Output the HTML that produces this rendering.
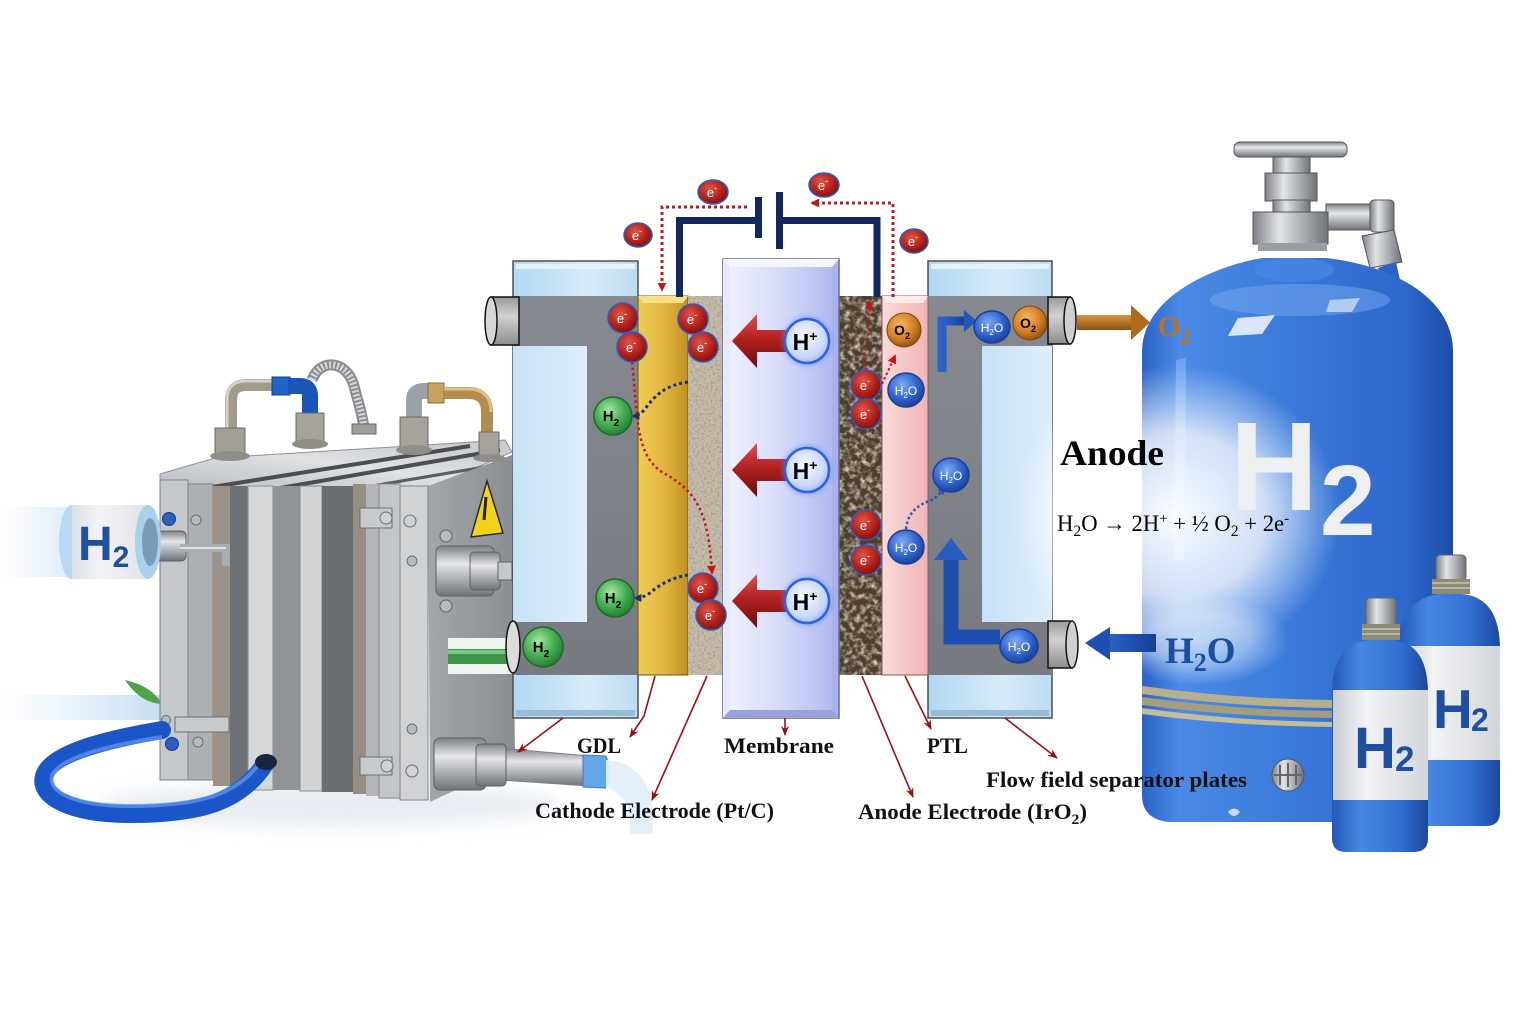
<!DOCTYPE html>
<html><head><meta charset="utf-8"><title>PEM Electrolyzer</title>
<style>html,body{margin:0;padding:0;background:#fff;}svg{display:block;}</style>
</head><body>
<svg width="1536" height="1024" viewBox="0 0 1536 1024" xmlns="http://www.w3.org/2000/svg">
<defs>
  <linearGradient id="plateBlue" x1="0" x2="1" y1="0" y2="0">
    <stop offset="0" stop-color="#b2d8f2"/><stop offset="0.6" stop-color="#d6ebf8"/><stop offset="1" stop-color="#bcdcf2"/>
  </linearGradient>
  <linearGradient id="winBlue" x1="0" x2="1" y1="0" y2="0">
    <stop offset="0" stop-color="#c6e2f6"/><stop offset="1" stop-color="#deeefa"/>
  </linearGradient>
  <linearGradient id="grayBand" x1="0" x2="0" y1="0" y2="1">
    <stop offset="0" stop-color="#868a90"/><stop offset="1" stop-color="#777b81"/>
  </linearGradient>
  <linearGradient id="gold" x1="0" x2="1" y1="0" y2="0">
    <stop offset="0" stop-color="#f0cd55"/><stop offset="0.6" stop-color="#deb23c"/><stop offset="1" stop-color="#c0901f"/>
  </linearGradient>
  <linearGradient id="memb" x1="0" x2="1" y1="0" y2="0">
    <stop offset="0" stop-color="#eef0fd"/><stop offset="0.55" stop-color="#d3d8f8"/><stop offset="1" stop-color="#b2baf0"/>
  </linearGradient>
  <linearGradient id="pink" x1="0" x2="1" y1="0" y2="0">
    <stop offset="0" stop-color="#fadada"/><stop offset="1" stop-color="#f0b5b5"/>
  </linearGradient>
  <linearGradient id="redArrow" x1="0" x2="0" y1="0" y2="1">
    <stop offset="0" stop-color="#e05050"/><stop offset="0.45" stop-color="#b32020"/><stop offset="1" stop-color="#6e0e0e"/>
  </linearGradient>
  <linearGradient id="blueArrow" x1="0" x2="1" y1="0" y2="0">
    <stop offset="0" stop-color="#2d63c8"/><stop offset="1" stop-color="#163f96"/>
  </linearGradient>
  <linearGradient id="brownArrow" x1="0" x2="0" y1="0" y2="1">
    <stop offset="0" stop-color="#d9953a"/><stop offset="1" stop-color="#8d5212"/>
  </linearGradient>
  <linearGradient id="cyl" x1="0" x2="0" y1="0" y2="1">
    <stop offset="0" stop-color="#9a9a9a"/><stop offset="0.4" stop-color="#d2d2d2"/><stop offset="1" stop-color="#8c8c8c"/>
  </linearGradient>
  <radialGradient id="eG" cx="0.4" cy="0.35" r="0.7">
    <stop offset="0" stop-color="#e0554a"/><stop offset="0.6" stop-color="#b0221a"/><stop offset="1" stop-color="#7a0f0a"/>
  </radialGradient>
  <radialGradient id="hG" cx="0.45" cy="0.4" r="0.65">
    <stop offset="0" stop-color="#f6f8ff"/><stop offset="0.7" stop-color="#c9d8fb"/><stop offset="1" stop-color="#98b4f2"/>
  </radialGradient>
  <radialGradient id="gG" cx="0.4" cy="0.35" r="0.7">
    <stop offset="0" stop-color="#a6e8a6"/><stop offset="0.55" stop-color="#46ad52"/><stop offset="1" stop-color="#1e7a2c"/>
  </radialGradient>
  <radialGradient id="wG" cx="0.4" cy="0.35" r="0.7">
    <stop offset="0" stop-color="#7eaaf2"/><stop offset="0.6" stop-color="#2f62cc"/><stop offset="1" stop-color="#173d90"/>
  </radialGradient>
  <radialGradient id="oG" cx="0.4" cy="0.35" r="0.7">
    <stop offset="0" stop-color="#f6b766"/><stop offset="0.6" stop-color="#d27e22"/><stop offset="1" stop-color="#8c4c0e"/>
  </radialGradient>
  <filter id="glow" x="-50%" y="-50%" width="200%" height="200%"><feGaussianBlur stdDeviation="3"/></filter>
  <filter id="soft" x="-30%" y="-30%" width="160%" height="160%"><feGaussianBlur stdDeviation="8"/></filter>
  <filter id="texLight" x="0" y="0" width="1" height="1">
    <feTurbulence type="fractalNoise" baseFrequency="0.45" numOctaves="2" seed="3"/>
    <feColorMatrix type="matrix" values="0 0 0 0 0.35  0 0 0 0 0.32  0 0 0 0 0.28  2.6 0 0 0 -1.15"/>
  </filter>
  <filter id="texDark" x="0" y="0" width="1" height="1">
    <feTurbulence type="fractalNoise" baseFrequency="0.18" numOctaves="3" seed="7"/>
    <feColorMatrix type="matrix" values="0 0 0 0 0.72  0 0 0 0 0.64  0 0 0 0 0.52  2.4 0 0 0 -1.0"/>
  </filter>
  <linearGradient id="tankGrad" x1="0" x2="1" y1="0" y2="0">
    <stop offset="0" stop-color="#2a63c6"/><stop offset="0.12" stop-color="#4b8ae6"/><stop offset="0.45" stop-color="#3b7bdb"/><stop offset="0.85" stop-color="#2d67cb"/><stop offset="1" stop-color="#1b4da8"/>
  </linearGradient>
  <linearGradient id="bottleGrad" x1="0" x2="1" y1="0" y2="0">
    <stop offset="0" stop-color="#2457b8"/><stop offset="0.3" stop-color="#4688e2"/><stop offset="0.7" stop-color="#3270d2"/><stop offset="1" stop-color="#1a48a0"/>
  </linearGradient>
  <linearGradient id="labelGrad" x1="0" x2="1" y1="0" y2="0">
    <stop offset="0" stop-color="#c9cdd4"/><stop offset="0.35" stop-color="#f2f3f5"/><stop offset="1" stop-color="#d2d5da"/>
  </linearGradient>
  <linearGradient id="metal" x1="0" x2="1" y1="0" y2="0">
    <stop offset="0" stop-color="#7d8086"/><stop offset="0.35" stop-color="#e2e4e6"/><stop offset="0.7" stop-color="#a5a8ad"/><stop offset="1" stop-color="#6f7277"/>
  </linearGradient>
  <linearGradient id="metalV" x1="0" x2="0" y1="0" y2="1">
    <stop offset="0" stop-color="#7d8086"/><stop offset="0.35" stop-color="#e6e7e9"/><stop offset="0.7" stop-color="#a5a8ad"/><stop offset="1" stop-color="#6f7277"/>
  </linearGradient>
  <radialGradient id="fog" cx="0.5" cy="0.5" r="0.5">
    <stop offset="0" stop-color="#ffffff" stop-opacity="0.97"/><stop offset="0.55" stop-color="#ffffff" stop-opacity="0.75"/><stop offset="1" stop-color="#ffffff" stop-opacity="0"/>
  </radialGradient>
  <linearGradient id="fadeL" x1="0" x2="1" y1="0" y2="0">
    <stop offset="0" stop-color="#cfe4f5" stop-opacity="0"/><stop offset="1" stop-color="#bcd9f0" stop-opacity="0.9"/>
  </linearGradient>
  <linearGradient id="topFace" x1="0" x2="1" y1="1" y2="0">
    <stop offset="0" stop-color="#b9bdc2"/><stop offset="0.5" stop-color="#dfe1e3"/><stop offset="1" stop-color="#c4c7cb"/>
  </linearGradient>
  <linearGradient id="sideFace" x1="0" x2="1" y1="0" y2="0">
    <stop offset="0" stop-color="#a3a6aa"/><stop offset="1" stop-color="#8a8d92"/>
  </linearGradient>
  <marker id="mRed" viewBox="0 0 10 10" refX="8" refY="5" markerWidth="9" markerHeight="9" markerUnits="userSpaceOnUse" orient="auto">
    <path d="M0,0 L10,5 L0,10 z" fill="#c01818"/>
  </marker>
  <marker id="mLead" viewBox="0 0 10 10" refX="9" refY="5" markerWidth="10" markerHeight="10" markerUnits="userSpaceOnUse" orient="auto">
    <path d="M0,1 L10,5 L0,9 L3,5 z" fill="#9a1010"/>
  </marker>
  <marker id="mNavy" viewBox="0 0 10 10" refX="8" refY="5" markerWidth="8" markerHeight="8" markerUnits="userSpaceOnUse" orient="auto">
    <path d="M0,0 L10,5 L0,10 z" fill="#1b2f66"/>
  </marker>
  <marker id="mBlue" viewBox="0 0 10 10" refX="8" refY="5" markerWidth="8" markerHeight="8" markerUnits="userSpaceOnUse" orient="auto">
    <path d="M0,0 L10,5 L0,10 z" fill="#2a56b8"/>
  </marker>
</defs>

<rect width="1536" height="1024" fill="#ffffff"/>

<!-- ================= LEFT STACK ================= -->
<ellipse cx="330" cy="805" rx="230" ry="22" fill="#dfe6ee" opacity="0.7" filter="url(#soft)"/>
<rect x="0" y="507" width="110" height="70" fill="url(#fadeL)"/>
<rect x="0" y="695" width="165" height="25" fill="url(#fadeL)"/>
<path d="M125,680 Q152,686 162,704 Q140,703 125,680 Z" fill="#4fa34a"/>

<!-- top face -->
<polygon points="160,474 215,458 505,440 512,452 430,488 160,488" fill="url(#topFace)" stroke="#8e9196" stroke-width="1"/>
<path d="M212,487 L470,446" stroke="#4a4d52" stroke-width="4"/>
<path d="M280,488 L500,450" stroke="#4a4d52" stroke-width="4"/>
<path d="M360,488 L508,463" stroke="#5a5d62" stroke-width="3"/>
<!-- side face -->
<polygon points="428,486 512,455 515,762 430,802" fill="url(#sideFace)"/>
<!-- front plates -->
<rect x="160" y="480" width="28" height="300" fill="#c6c9cc" stroke="#7d8085" stroke-width="1"/>
<rect x="188" y="484" width="25" height="296" fill="#aeb1b4" stroke="#7d8085" stroke-width="1"/>
<rect x="213" y="486" width="17" height="300" fill="#9c928a"/>
<rect x="230" y="486" width="18" height="302" fill="#6d7074"/>
<rect x="248" y="486" width="25" height="304" fill="#d5d7d8" stroke="#8a8d91" stroke-width="1"/>
<rect x="273" y="486" width="27" height="304" fill="#909397"/>
<rect x="300" y="486" width="22" height="305" fill="#d2d4d6" stroke="#8a8d91" stroke-width="1"/>
<rect x="322" y="486" width="31" height="306" fill="#6a6d71"/>
<rect x="353" y="484" width="13" height="310" fill="#988d83"/>
<rect x="366" y="484" width="13" height="312" fill="#b4b7ba"/>
<rect x="379" y="484" width="21" height="314" fill="#c3c6c9" stroke="#84878c" stroke-width="1"/>
<rect x="400" y="486" width="28" height="314" fill="#d0d2d4" stroke="#84878c" stroke-width="1"/>
<!-- warning triangle -->
<polygon points="487,481 503,533 471,537" fill="#f2d31a" stroke="#2a2a2a" stroke-width="1.5"/>
<path d="M486,497 L484,520" stroke="#222" stroke-width="3"/>
<!-- screws & clamps -->
<circle cx="169" cy="519" r="6.5" fill="#2d5fc0" stroke="#1a3a80"/>
<circle cx="172" cy="744" r="6.5" fill="#2d5fc0" stroke="#1a3a80"/>
<circle cx="196" cy="520" r="5" fill="#b8bbbe" stroke="#6b6e72"/>
<circle cx="166" cy="720" r="4.5" fill="#b8bbbe" stroke="#6b6e72"/>
<circle cx="198" cy="742" r="5" fill="#b8bbbe" stroke="#6b6e72"/>
<rect x="175" y="717" width="54" height="15" fill="#c8cbce" stroke="#6b6e72"/>
<rect x="360" y="508" width="32" height="20" fill="#c8cbce" stroke="#6b6e72"/>
<circle cx="386" cy="518" r="6" fill="#d0d2d4" stroke="#6b6e72"/>
<circle cx="410" cy="521" r="6" fill="#d0d2d4" stroke="#6b6e72"/>
<circle cx="412" cy="561" r="5" fill="#b8bbbe" stroke="#6b6e72"/>
<circle cx="412" cy="729" r="5" fill="#b8bbbe" stroke="#6b6e72"/>
<rect x="360" y="757" width="32" height="18" fill="#c8cbce" stroke="#6b6e72"/>
<circle cx="387" cy="766" r="6" fill="#d0d2d4" stroke="#6b6e72"/>
<circle cx="412" cy="771" r="6" fill="#d0d2d4" stroke="#6b6e72"/>
<!-- right connectors on box -->
<rect x="436" y="546" width="58" height="50" rx="6" fill="url(#metalV)" stroke="#5d6065"/>
<rect x="470" y="552" width="30" height="38" rx="4" fill="url(#metalV)" stroke="#5d6065"/>
<rect x="498" y="562" width="14" height="18" fill="#c6c8cb" stroke="#5d6065"/>
<circle cx="446" cy="536" r="6" fill="#b8bbbe" stroke="#5d6065"/>
<circle cx="446" cy="606" r="6" fill="#b8bbbe" stroke="#5d6065"/>
<!-- green pipe -->
<rect x="448" y="638" width="64" height="36" fill="#eef3ee"/>
<rect x="448" y="649" width="64" height="15" fill="#3f9448"/>
<rect x="448" y="650" width="64" height="4" fill="#7ccc83"/>
<!-- bottom right connector + pipe -->
<polygon points="500,748 588,756 588,786 500,780" fill="url(#metalV)" stroke="#7c7f84"/>
<rect x="434" y="738" width="52" height="52" rx="6" fill="url(#metalV)" stroke="#5d6065"/>
<rect x="476" y="744" width="30" height="42" rx="4" fill="url(#metalV)" stroke="#5d6065"/>
<path d="M583,755 L606,756 Q612,770 606,788 L583,787 Z" fill="#62a6e6" stroke="#3c7cc0"/>
<path d="M606,760 C642,762 658,792 652,834 L630,834 C632,804 622,792 606,788 Z" fill="#e4eef7" opacity="0.95"/>
<!-- left H2 inlet -->
<rect x="136" y="531" width="50" height="30" rx="5" fill="url(#metalV)" stroke="#5d6065"/>
<path d="M180,548 H226 V566" stroke="#a9acb0" stroke-width="8" fill="none"/>
<path d="M180,548 H226" stroke="#e0e2e4" stroke-width="2" fill="none"/>
<ellipse cx="72" cy="542" rx="13" ry="37" fill="#b7daf2"/>
<rect x="72" y="505" width="76" height="74" fill="#f1f3f6"/>
<rect x="72" y="505" width="76" height="74" fill="url(#labelGrad)" opacity="0.5"/>
<ellipse cx="148" cy="542" rx="13" ry="37" fill="#a9d1ee"/>
<ellipse cx="150" cy="542" rx="8" ry="24" fill="#7a9bb5"/>
<text x="78" y="560" font-family="Liberation Sans, sans-serif" font-weight="bold" font-size="48" fill="#1f4fa0">H<tspan font-size="30" dy="7">2</tspan></text>
<!-- top hoses -->
<path d="M312,380 C320,358 347,360 354,386 C358,402 362,412 364,428" stroke="#8b8d90" stroke-width="11" fill="none"/>
<path d="M312,380 C320,358 347,360 354,386 C358,402 362,412 364,428" stroke="#d7d9db" stroke-width="7" fill="none" stroke-dasharray="2,2"/>
<rect x="352" y="424" width="24" height="10" fill="#9e9d98" stroke="#6a6a66"/>
<path d="M231,432 V400 Q231,385 246,385 H274" stroke="#a39a89" stroke-width="12" fill="none"/>
<path d="M227,432 V400 Q227,381 246,381 H274" stroke="#d8d2c6" stroke-width="3" fill="none"/>
<rect x="272" y="377" width="18" height="18" fill="#2262cc" stroke="#163f8a"/>
<path d="M288,386 H300 Q310,386 310,396 V414" stroke="#1a55b8" stroke-width="16" fill="none"/>
<rect x="215" y="428" width="30" height="28" fill="#a19f98" stroke="#6c6a64"/>
<ellipse cx="230" cy="456" rx="20" ry="5" fill="#8f8d87"/>
<rect x="296" y="413" width="28" height="31" fill="#a5a39c" stroke="#6c6a64"/>
<ellipse cx="310" cy="444" rx="18" ry="5" fill="#8f8d87"/>
<path d="M414,418 V400 Q414,391 424,391 H430" stroke="#9aa0a8" stroke-width="16" fill="none"/>
<rect x="428" y="383" width="16" height="20" fill="#c8a262" stroke="#8a6a30"/>
<path d="M444,393 H468 Q487,393 487,412 V436" stroke="#b38c50" stroke-width="12" fill="none"/>
<path d="M444,389 H468 Q491,389 491,412" stroke="#e0c08a" stroke-width="3" fill="none"/>
<rect x="400" y="417" width="28" height="33" fill="#a5a39c" stroke="#6c6a64"/>
<ellipse cx="414" cy="450" rx="18" ry="5" fill="#8f8d87"/>
<rect x="479" y="432" width="20" height="26" fill="#a5a39c" stroke="#6c6a64"/>
<ellipse cx="489" cy="458" rx="16" ry="4" fill="#8f8d87"/>
<!-- blue hose -->
<path d="M265,764 C240,802 200,814 130,814 C70,814 38,796 44,776 C50,756 92,742 162,730" stroke="#1b56c8" stroke-width="18" fill="none" stroke-linecap="round"/>
<path d="M262,760 C238,795 200,806 130,806 C75,806 48,792 52,776 C58,760 95,748 162,737" stroke="#5b92ee" stroke-width="4" fill="none" opacity="0.8"/>
<ellipse cx="266" cy="762" rx="11" ry="8" fill="#1a2440"/>

<!-- ================= CELL ================= -->
<rect x="513" y="261" width="125" height="457" fill="url(#plateBlue)" stroke="#4a4f55" stroke-width="1.5"/>
<rect x="516" y="264" width="119" height="5" fill="#e6f3fb"/>
<path d="M513,296 H638 V675 H513 V622 H587 V346 H513 Z" fill="url(#grayBand)"/>
<rect x="513" y="346" width="74" height="276" fill="url(#winBlue)"/>
<rect x="516" y="710" width="119" height="6" fill="#98bcd6"/>
<rect x="928" y="261" width="124" height="457" fill="url(#plateBlue)" stroke="#4a4f55" stroke-width="1.5"/>
<rect x="931" y="264" width="118" height="5" fill="#e6f3fb"/>
<path d="M928,296 H1052 V346 H982 V622 H1052 V675 H928 Z" fill="url(#grayBand)"/>
<rect x="982" y="346" width="70" height="276" fill="url(#winBlue)"/>
<rect x="931" y="710" width="118" height="6" fill="#98bcd6"/>
<rect x="638" y="296" width="50" height="379" fill="url(#gold)" stroke="#6b5410" stroke-width="1"/>
<polygon points="638,296 688,296 683,303 643,303" fill="#f8e08a"/>
<rect x="688" y="296" width="35" height="379" fill="#c6bcaa"/>
<rect x="688" y="296" width="35" height="379" filter="url(#texLight)"/>
<rect x="839" y="296" width="43" height="379" fill="#4c3d2e"/>
<rect x="839" y="296" width="43" height="379" filter="url(#texDark)"/>
<rect x="882" y="296" width="46" height="379" fill="url(#pink)" stroke="#8a5a5a" stroke-width="1"/>
<polygon points="882,296 928,296 923,303 887,303" fill="#fdeaea"/>
<rect x="723" y="259" width="116" height="459" fill="#a9b1e9" stroke="#686a8a" stroke-width="1.5"/>
<polygon points="723,259 839,259 832,267 730,267" fill="#f4f5ff"/>
<polygon points="723,259 730,267 730,710 723,718" fill="#e6e9ff"/>
<polygon points="723,718 730,710 832,710 839,718" fill="#9aa2dc"/>
<rect x="730" y="267" width="102" height="443" fill="url(#memb)"/>

<!-- connectors -->
<rect x="491" y="297" width="28" height="48" fill="url(#cyl)" stroke="#111" stroke-width="1.5"/>
<ellipse cx="491" cy="321" rx="6" ry="24" fill="#d6d6d6" stroke="#111" stroke-width="1.5"/>
<ellipse cx="513" cy="647" rx="7" ry="26" fill="#dcdcdc" stroke="#111" stroke-width="1.5"/>
<rect x="1048" y="297" width="22" height="47" fill="url(#cyl)" stroke="#111" stroke-width="1.5"/>
<ellipse cx="1070" cy="320.5" rx="6" ry="23.5" fill="#cfcfcf" stroke="#111" stroke-width="1.5"/>
<rect x="1048" y="621" width="24" height="47" fill="url(#cyl)" stroke="#111" stroke-width="1.5"/>
<ellipse cx="1072" cy="644.5" rx="6" ry="23.5" fill="#cfcfcf" stroke="#111" stroke-width="1.5"/>

<!-- battery wires -->
<path d="M679.5,297 V220.5 H758" stroke="#12275e" stroke-width="7" fill="none"/>
<path d="M779,220.5 H877 V297" stroke="#12275e" stroke-width="7" fill="none"/>
<rect x="755" y="197" width="7" height="41" fill="#12275e"/>
<rect x="776" y="192" width="7" height="57" fill="#12275e"/>
<path d="M747,207 H662 V290" stroke="#c01818" stroke-width="3" stroke-dasharray="3,3" fill="none" marker-end="url(#mRed)"/>
<path d="M893,297 V203 H812" stroke="#c01818" stroke-width="3" stroke-dasharray="3,3" fill="none" marker-end="url(#mRed)"/>

<!-- blue arrows on right plate -->
<path d="M942,372 V321 H966" stroke="url(#blueArrow)" stroke-width="9" fill="none"/>
<polygon points="964,310 977,321 964,332" fill="#2456b8"/>
<path d="M951,556 V637 H1000" stroke="#1f4fae" stroke-width="15" fill="none"/>
<polygon points="934,560 968,560 951,538" fill="#2a5cc0"/>

<!-- H+ arrows -->
<g>
  <polygon points="732,341 757,314 757,330 786,330 786,352 757,352 757,368" fill="url(#redArrow)"/>
  <polygon points="732,470 757,443 757,459 786,459 786,481 757,481 757,497" fill="url(#redArrow)"/>
  <polygon points="732,601 757,574 757,590 786,590 786,612 757,612 757,628" fill="url(#redArrow)"/>
</g>
<g font-family="Liberation Sans, sans-serif" font-weight="bold" text-anchor="middle">
  <circle cx="807" cy="341" r="24" fill="#4f86ff" opacity="0.6" filter="url(#glow)"/>
  <circle cx="807" cy="341" r="22" fill="url(#hG)" stroke="#2f62e0" stroke-width="2.5"/>
  <text x="805" y="350" font-size="23" fill="#000">H<tspan font-size="14" dy="-9">+</tspan></text>
  <circle cx="807" cy="470" r="24" fill="#4f86ff" opacity="0.6" filter="url(#glow)"/>
  <circle cx="807" cy="470" r="22" fill="url(#hG)" stroke="#2f62e0" stroke-width="2.5"/>
  <text x="805" y="479" font-size="23" fill="#000">H<tspan font-size="14" dy="-9">+</tspan></text>
  <circle cx="807" cy="601" r="24" fill="#4f86ff" opacity="0.6" filter="url(#glow)"/>
  <circle cx="807" cy="601" r="22" fill="url(#hG)" stroke="#2f62e0" stroke-width="2.5"/>
  <text x="805" y="610" font-size="23" fill="#000">H<tspan font-size="14" dy="-9">+</tspan></text>
</g>

<!-- dotted internal paths -->
<path d="M632,362 C638,420 636,455 662,472 C698,492 708,512 712,573" stroke="#c01818" stroke-width="2.5" stroke-dasharray="2.5,3" fill="none" marker-end="url(#mRed)"/>
<path d="M688,382 C666,385 656,395 648,405 C643,412 639,416 633,416" stroke="#1b2f66" stroke-width="3" stroke-dasharray="3,3" fill="none" marker-end="url(#mNavy)"/>
<path d="M688,575 C670,578 660,585 651,592 C646,596 641,598 635,598" stroke="#1b2f66" stroke-width="3" stroke-dasharray="3,3" fill="none" marker-end="url(#mNavy)"/>
<path d="M866,370 C860,352 872,336 868,320 L870,302" stroke="#c01818" stroke-width="2" stroke-dasharray="2.5,2.5" fill="none" marker-end="url(#mRed)"/>
<path d="M882,384 L895,356" stroke="#c01818" stroke-width="2" stroke-dasharray="2.5,2.5" fill="none" marker-end="url(#mRed)"/>
<path d="M906,529 C908,508 924,503 934,499 L945,488" stroke="#2a56b8" stroke-width="2.5" stroke-dasharray="2.5,2.5" fill="none" marker-end="url(#mBlue)"/>

<!-- electrons -->
<g font-family="Liberation Sans, sans-serif" text-anchor="middle" fill="#fff" font-size="13">
  <g stroke="#2d5bc8" stroke-width="1.5">
    <ellipse cx="713" cy="192" rx="15" ry="12" fill="url(#eG)"/>
    <ellipse cx="824" cy="185" rx="15" ry="12" fill="url(#eG)"/>
    <ellipse cx="638" cy="235" rx="14" ry="12" fill="url(#eG)"/>
    <ellipse cx="914" cy="241" rx="14" ry="12" fill="url(#eG)"/>
    <circle cx="623" cy="318" r="15" fill="url(#eG)"/>
    <circle cx="632" cy="347" r="15" fill="url(#eG)"/>
    <circle cx="693" cy="319" r="15" fill="url(#eG)"/>
    <circle cx="703" cy="347" r="15" fill="url(#eG)"/>
    <circle cx="703" cy="588" r="15" fill="url(#eG)"/>
    <circle cx="711" cy="615" r="15" fill="url(#eG)"/>
    <circle cx="866" cy="385" r="15" fill="url(#eG)"/>
    <circle cx="866" cy="414" r="15" fill="url(#eG)"/>
    <circle cx="866" cy="525" r="15" fill="url(#eG)"/>
    <circle cx="866" cy="560" r="15" fill="url(#eG)"/>
  </g>
  <text x="712" y="197">e<tspan font-size="9" dy="-6">-</tspan></text>
  <text x="823" y="190">e<tspan font-size="9" dy="-6">-</tspan></text>
  <text x="637" y="240">e<tspan font-size="9" dy="-6">-</tspan></text>
  <text x="913" y="246">e<tspan font-size="9" dy="-6">-</tspan></text>
  <text x="622" y="323">e<tspan font-size="9" dy="-6">-</tspan></text>
  <text x="631" y="352">e<tspan font-size="9" dy="-6">-</tspan></text>
  <text x="692" y="324">e<tspan font-size="9" dy="-6">-</tspan></text>
  <text x="702" y="352">e<tspan font-size="9" dy="-6">-</tspan></text>
  <text x="702" y="593">e<tspan font-size="9" dy="-6">-</tspan></text>
  <text x="710" y="620">e<tspan font-size="9" dy="-6">-</tspan></text>
  <text x="865" y="390">e<tspan font-size="9" dy="-6">-</tspan></text>
  <text x="865" y="419">e<tspan font-size="9" dy="-6">-</tspan></text>
  <text x="865" y="530">e<tspan font-size="9" dy="-6">-</tspan></text>
  <text x="865" y="565">e<tspan font-size="9" dy="-6">-</tspan></text>
</g>

<g font-family="Liberation Sans, sans-serif" font-weight="bold" text-anchor="middle" font-size="15" fill="#000">
  <circle cx="613" cy="416" r="19" fill="url(#gG)" stroke="#1d6a2a" stroke-width="1.5"/>
  <text x="611" y="421">H<tspan font-size="10" dy="5">2</tspan></text>
  <circle cx="615" cy="598" r="19" fill="url(#gG)" stroke="#1d6a2a" stroke-width="1.5"/>
  <text x="613" y="603">H<tspan font-size="10" dy="5">2</tspan></text>
  <circle cx="543" cy="647" r="20" fill="url(#gG)" stroke="#1d6a2a" stroke-width="1.5"/>
  <text x="541" y="652">H<tspan font-size="10" dy="5">2</tspan></text>
</g>
<g font-family="Liberation Sans, sans-serif" text-anchor="middle" font-size="12" fill="#fff">
  <g stroke="#1a3f9a" stroke-width="1.5">
    <ellipse cx="906" cy="390" rx="18" ry="17" fill="url(#wG)"/>
    <ellipse cx="906" cy="547" rx="18" ry="17" fill="url(#wG)"/>
    <ellipse cx="951" cy="475" rx="18" ry="17" fill="url(#wG)"/>
    <ellipse cx="992" cy="327" rx="18" ry="16" fill="url(#wG)"/>
    <ellipse cx="1019" cy="646" rx="19" ry="17" fill="url(#wG)"/>
  </g>
  <text x="906" y="395">H<tspan font-size="8" dy="3">2</tspan><tspan dy="-3">O</tspan></text>
  <text x="906" y="552">H<tspan font-size="8" dy="3">2</tspan><tspan dy="-3">O</tspan></text>
  <text x="951" y="480">H<tspan font-size="8" dy="3">2</tspan><tspan dy="-3">O</tspan></text>
  <text x="992" y="332">H<tspan font-size="8" dy="3">2</tspan><tspan dy="-3">O</tspan></text>
  <text x="1019" y="651">H<tspan font-size="8" dy="3">2</tspan><tspan dy="-3">O</tspan></text>
</g>
<g font-family="Liberation Sans, sans-serif" font-weight="bold" text-anchor="middle" font-size="14" fill="#000">
  <circle cx="904" cy="330" r="17" fill="url(#oG)" stroke="#7a420c" stroke-width="1"/>
  <text x="902" y="335">O<tspan font-size="9" dy="4">2</tspan></text>
  <circle cx="1030" cy="323" r="17" fill="url(#oG)" stroke="#7a420c" stroke-width="1"/>
  <text x="1028" y="328">O<tspan font-size="9" dy="4">2</tspan></text>
</g>

<!-- ================= TANK ================= -->
<rect x="1273" y="155" width="37" height="20" fill="url(#metal)" stroke="#555"/>
<rect x="1265" y="173" width="52" height="28" fill="url(#metal)" stroke="#555"/>
<rect x="1273" y="200" width="37" height="14" fill="url(#metal)" stroke="#555"/>
<path d="M1326,204 H1372 V230 H1326 Z" fill="url(#metalV)" stroke="#555"/>
<rect x="1370" y="200" width="24" height="32" rx="4" fill="url(#metal)" stroke="#555"/>
<path d="M1362,236 L1394,230 L1402,262 L1370,268 Z" fill="url(#metal)" stroke="#555"/>
<path d="M1378,268 L1396,262 L1400,280 L1384,284 Z" fill="#2a62c6"/>
<rect x="1253" y="212" width="75" height="32" fill="url(#metal)" stroke="#555"/>
<rect x="1234" y="142" width="113" height="15" rx="6" fill="url(#metalV)" stroke="#555"/>
<rect x="1258" y="243" width="69" height="8" fill="#9a9ea4"/>
<path d="M1142,352 C1142,292 1225,264 1262,258 L1326,258 C1382,264 1453,292 1453,352 L1453,795 Q1453,820 1425,822 L1170,822 Q1142,820 1142,795 Z" fill="url(#tankGrad)"/>
<ellipse cx="1294" cy="270" rx="40" ry="12" fill="#4a8ae6" opacity="0.6"/>
<ellipse cx="1300" cy="300" rx="90" ry="16" fill="#7fb0f2" opacity="0.45"/>
<path d="M1238,318 L1275,315 L1262,334 L1228,336 Z" fill="#ffffff" opacity="0.8"/>
<path d="M1330,300 L1360,298 L1352,312 L1326,312 Z" fill="#ffffff" opacity="0.55"/>
<path d="M1176,360 L1186,358 L1184,560 L1174,560 Z" fill="#9cc4f6" opacity="0.45"/>
<ellipse cx="1175" cy="515" rx="165" ry="150" fill="url(#fog)"/>
<ellipse cx="1200" cy="640" rx="90" ry="45" fill="url(#fog)" opacity="0.55"/>
<path d="M1142,686 Q1240,700 1345,700 L1345,708 Q1240,708 1142,694 Z" fill="#b8b08c"/>
<path d="M1142,697 Q1240,711 1345,711 L1345,718 Q1240,718 1142,705 Z" fill="#a39e80"/>
<path d="M1142,708 Q1240,722 1345,722 L1345,727 Q1240,727 1142,714 Z" fill="#c4bd98"/>
<circle cx="1288" cy="775" r="16" fill="url(#metal)" stroke="#555"/>
<path d="M1280,765 V785 M1288,763 V787 M1296,765 V785 M1274,775 H1302" stroke="#666" stroke-width="2"/>
<path d="M1228,812 Q1234,805 1240,812 Q1234,820 1228,812 Z" fill="#cfd8e2"/>
<text x="1230" y="510" font-family="Liberation Sans, sans-serif" font-weight="bold" font-size="126" fill="#eeeff1" textLength="88" lengthAdjust="spacingAndGlyphs">H</text>
<text x="1320" y="535" font-family="Liberation Sans, sans-serif" font-weight="bold" font-size="100" fill="#eeeff1">2</text>

<!-- bottle B -->
<path d="M1398,650 C1398,608 1420,596 1440,594 L1462,594 C1482,596 1500,608 1500,650 L1500,812 Q1500,826 1486,826 L1412,826 Q1398,826 1398,812 Z" fill="url(#bottleGrad)"/>
<rect x="1436" y="555" width="30" height="26" rx="4" fill="url(#metal)" stroke="#666"/>
<rect x="1432" y="579" width="38" height="15" fill="#8d8a78"/>
<path d="M1432,583 H1470 M1432,588 H1470" stroke="#c8c4aa" stroke-width="1.5"/>
<rect x="1398" y="646" width="102" height="114" fill="url(#labelGrad)"/>
<text x="1433" y="728" font-family="Liberation Sans, sans-serif" font-weight="bold" font-size="55" fill="#1f4fa0">H</text>
<text x="1471" y="731" font-family="Liberation Sans, sans-serif" font-weight="bold" font-size="32" fill="#1f4fa0">2</text>
<!-- bottle A -->
<path d="M1332,694 C1332,654 1350,642 1370,640 L1392,640 C1412,642 1428,654 1428,694 L1428,838 Q1428,852 1414,852 L1346,852 Q1332,852 1332,838 Z" fill="url(#bottleGrad)"/>
<rect x="1366" y="598" width="30" height="28" rx="4" fill="url(#metal)" stroke="#666"/>
<rect x="1362" y="624" width="38" height="16" fill="#8d8a78"/>
<path d="M1362,629 H1400 M1362,634 H1400" stroke="#c8c4aa" stroke-width="1.5"/>
<rect x="1333" y="690" width="95" height="110" fill="url(#labelGrad)"/>
<text x="1354" y="768" font-family="Liberation Sans, sans-serif" font-weight="bold" font-size="58" fill="#1f4fa0">H</text>
<text x="1395" y="771" font-family="Liberation Sans, sans-serif" font-weight="bold" font-size="35" fill="#1f4fa0">2</text>

<!-- O2 / H2O arrows -->
<rect x="1077" y="315" width="58" height="15" fill="url(#brownArrow)"/>
<polygon points="1131,305 1150,322.5 1131,340" fill="#b06a1c"/>
<rect x="1106" y="634" width="50" height="18" fill="url(#blueArrow)"/>
<polygon points="1110,627 1085,643 1110,660" fill="#1f4fae"/>

<text x="1158" y="336" font-family="Liberation Serif, serif" font-weight="bold" font-size="28" fill="#c4701a">O<tspan font-size="22" dy="8">2</tspan></text>
<text x="1165" y="663" font-family="Liberation Serif, serif" font-weight="bold" font-size="37" fill="#1a4fa0">H<tspan font-size="26" dy="8">2</tspan><tspan dy="-8">O</tspan></text>
<text x="1060" y="465" font-family="Liberation Serif, serif" font-weight="bold" font-size="36" fill="#000" textLength="104" lengthAdjust="spacingAndGlyphs">Anode</text>
<text x="1057" y="531" font-family="Liberation Serif, DejaVu Serif, serif" font-size="23" fill="#000" textLength="232" lengthAdjust="spacingAndGlyphs">H<tspan font-size="16" dy="5">2</tspan><tspan dy="-5">O → 2H</tspan><tspan font-size="15" dy="-8">+</tspan><tspan dy="8"> + ½ O</tspan><tspan font-size="16" dy="5">2</tspan><tspan dy="-5"> + 2e</tspan><tspan font-size="15" dy="-8">-</tspan></text>

<g stroke="#9a1010" stroke-width="1.6" fill="none" marker-end="url(#mLead)">
  <path d="M563,718 L518,752"/>
  <path d="M655,676 L644,716 L630,737"/>
  <path d="M707,676 L652,800"/>
  <path d="M785,718 L785,735"/>
  <path d="M862,676 L913,797"/>
  <path d="M905,676 L931,729"/>
  <path d="M1005,718 L1057,758"/>
</g>

<g font-family="Liberation Serif, serif" font-weight="bold" font-size="22" fill="#111">
  <text x="577" y="753" textLength="44" lengthAdjust="spacingAndGlyphs">GDL</text>
  <text x="724" y="753" textLength="110" lengthAdjust="spacingAndGlyphs">Membrane</text>
  <text x="927" y="753" textLength="41" lengthAdjust="spacingAndGlyphs">PTL</text>
  <text x="986" y="787" textLength="261" lengthAdjust="spacingAndGlyphs">Flow field separator plates</text>
  <text x="535" y="818" textLength="239" lengthAdjust="spacingAndGlyphs">Cathode Electrode (Pt/C)</text>
  <text x="858" y="819" textLength="229" lengthAdjust="spacingAndGlyphs">Anode Electrode (IrO<tspan font-size="15" dy="5">2</tspan><tspan dy="-5">)</tspan></text>
</g>
</svg>
</body></html>
